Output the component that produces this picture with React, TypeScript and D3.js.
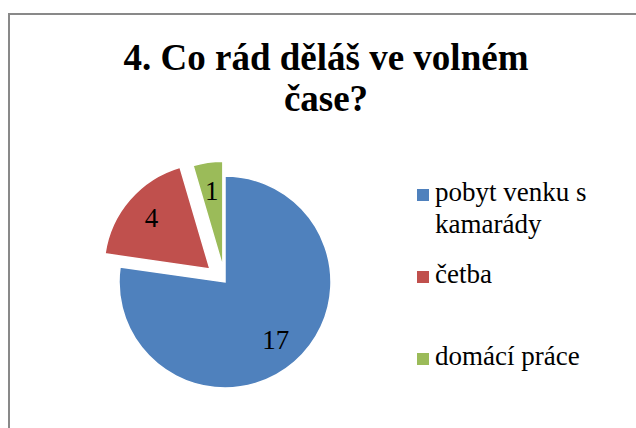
import React, { useEffect, useRef } from 'react';
import * as d3 from 'd3';

const TITLE_LINES = ['4. Co rád děláš ve volném', 'čase?'];
const CATEGORIES = ['pobyt venku s kamarády', 'četba', 'domácí práce'];
const VALUES = [17, 4, 1];
const COLORS = ['#4F81BD', '#C0504D', '#9BBB59'];
// how far each slice is pulled out of the pie, px
const EXPLODE = [0, 20, 15];

const W = 636;
const H = 428;

export default function App() {
  const ref = useRef<SVGSVGElement | null>(null);

  useEffect(() => {
    const svg = d3.select(ref.current);
    svg.selectAll('*').remove();

    const font = 'Liberation Serif, Times New Roman, Times, DejaVu Serif, serif';

    svg.append('rect').attr('width', W).attr('height', H).attr('fill', '#fff');

    // chart frame (runs off the right and bottom edges)
    svg
      .append('rect')
      .attr('x', 9)
      .attr('y', 14)
      .attr('width', W + 20)
      .attr('height', H + 20)
      .attr('fill', 'none')
      .attr('stroke', '#898989')
      .attr('stroke-width', 2);

    // title
    svg
      .append('text')
      .attr('x', 326)
      .attr('y', 70)
      .attr('text-anchor', 'middle')
      .style('font-family', font)
      .style('font-weight', 'bold')
      .style('font-size', '37px')
      .attr('fill', '#000')
      .selectAll('tspan')
      .data(TITLE_LINES)
      .join('tspan')
      .attr('x', 326)
      .attr('dy', (_d, i) => (i === 0 ? 0 : 41))
      .text((d) => d);

    // pie
    const cx = 225;
    const cy = 282;
    const r = 106;
    const pie = d3
      .pie<number>()
      .sort(null)
      .value((d) => d)
      .startAngle(0)
      .endAngle(2 * Math.PI);
    const arcs = pie(VALUES);
    const arc = d3.arc<d3.PieArcDatum<number>>().innerRadius(0).outerRadius(r);
    const labelArc = d3
      .arc<d3.PieArcDatum<number>>()
      .innerRadius(r * 0.73)
      .outerRadius(r * 0.73);

    const g = svg.append('g').attr('transform', `translate(${cx},${cy})`);
    const slices = g
      .selectAll('g.slice')
      .data(arcs)
      .join('g')
      .attr('class', 'slice')
      .attr('transform', (d, i) => {
        const a = (d.startAngle + d.endAngle) / 2;
        const e = EXPLODE[i];
        return `translate(${Math.sin(a) * e},${-Math.cos(a) * e})`;
      });

    slices
      .append('path')
      .attr('d', arc)
      .attr('fill', (_d, i) => COLORS[i])
      .attr('stroke', '#fff')
      .attr('stroke-width', 1.5)
      .attr('stroke-linejoin', 'miter');

    slices
      .append('text')
      .attr('x', (d) => labelArc.centroid(d)[0])
      .attr('y', (d) => labelArc.centroid(d)[1] + 9)
      .attr('text-anchor', 'middle')
      .style('font-family', font)
      .style('font-size', '27px')
      .attr('fill', '#000')
      .text((d) => d.data);

    // legend
    const ly = d3.scalePoint<string>().domain(CATEGORIES).range([201, 365]);
    const maxW = 165;
    const items = svg
      .selectAll('g.legend')
      .data(CATEGORIES)
      .join('g')
      .attr('class', 'legend');

    items
      .append('rect')
      .attr('x', 417)
      .attr('y', (d) => (ly(d) as number) - 12)
      .attr('width', 12)
      .attr('height', 12)
      .attr('fill', (_d, i) => COLORS[i]);

    items.each(function (d) {
      const t = d3
        .select(this)
        .append('text')
        .attr('x', 435)
        .attr('y', ly(d) as number)
        .style('font-family', font)
        .style('font-size', '27px')
        .attr('fill', '#000');
      const words = d.split(' ');
      let line: string[] = [];
      let ts = t.append('tspan').attr('x', 435).attr('dy', 0);
      words.forEach((w) => {
        line.push(w);
        ts.text(line.join(' '));
        const node = ts.node() as SVGTSpanElement;
        if (node.getComputedTextLength() > maxW && line.length > 1) {
          line.pop();
          ts.text(line.join(' '));
          line = [w];
          ts = t.append('tspan').attr('x', 435).attr('dy', 32).text(w);
        }
      });
    });
  }, []);

  return (
    <svg
      ref={ref}
      width={W}
      height={H}
      viewBox={`0 0 ${W} ${H}`}
      style={{ position: 'fixed', left: 0, top: 0, display: 'block' }}
    />
  );
}
